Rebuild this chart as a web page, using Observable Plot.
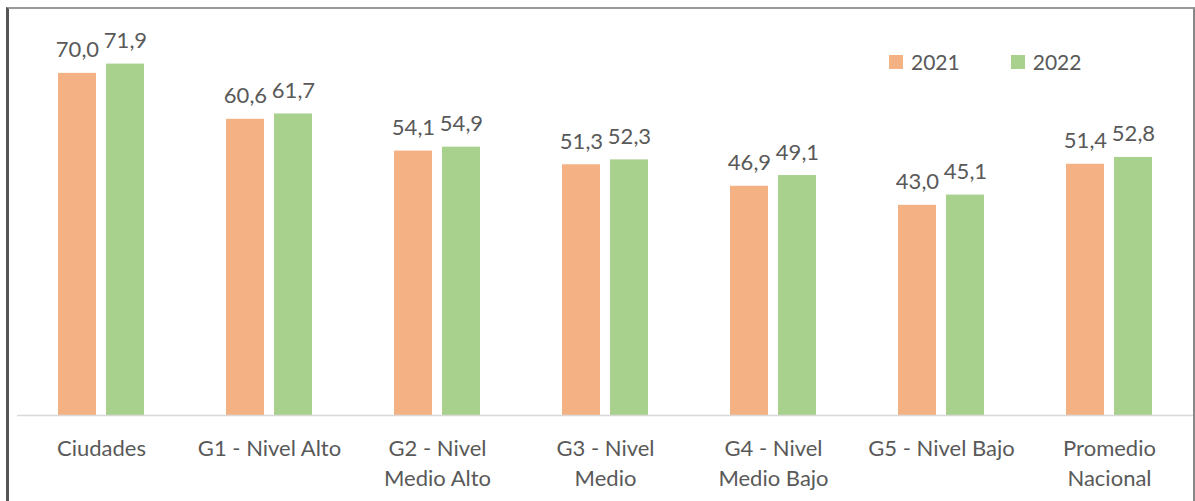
<!DOCTYPE html>
<html>
<head>
<meta charset="utf-8">
<script src="https://cdn.jsdelivr.net/npm/d3@7"></script>
<script src="https://cdn.jsdelivr.net/npm/@observablehq/plot@0.6"></script>
<style>
  html, body { margin: 0; padding: 0; background: #fff; }
  #wrap { position: relative; width: 1195px; height: 501px; overflow: hidden; font-family: Lato, "Open Sans", sans-serif; }
  #frame { position: absolute; left: 6px; top: 7px; width: 1184px; height: 520px;
           border-left: 3px solid #555; border-top: 2px solid #999; border-right: 2px solid #888; }
  #chart { position: absolute; left: 0; top: 0; }
  #legend { position: absolute; top: 49px; left: 889px; display: flex; gap: 51px; font-size: 21px; color: #595959; }
  #legend .item { display: flex; align-items: center; gap: 8px; }
  #legend .sw { width: 14px; height: 14px; display: inline-block; }
</style>
</head>
<body>
<div id="wrap">
  <div id="frame"></div>
  <div id="chart"></div>
  <div id="legend"></div>
</div>
<script>
const categories = ["Ciudades", "G1 - Nivel Alto", "G2 - Nivel Medio Alto", "G3 - Nivel Medio", "G4 - Nivel Medio Bajo", "G5 - Nivel Bajo", "Promedio Nacional"];
const tickLabels = ["Ciudades", "G1 - Nivel Alto", "G2 - Nivel\nMedio Alto", "G3 - Nivel\nMedio", "G4 - Nivel\nMedio Bajo", "G5 - Nivel Bajo", "Promedio\nNacional"];
const years = ["2021", "2022"];
const values2021 = [70.0, 60.6, 54.1, 51.3, 46.9, 43.0, 51.4];
const values2022 = [71.9, 61.7, 54.9, 52.3, 49.1, 45.1, 52.8];
const colors = ["#F4B183", "#A9D18E"];

const data = [];
categories.forEach((c, i) => {
  data.push({cat: c, year: years[0], value: values2021[i]});
  data.push({cat: c, year: years[1], value: values2022[i]});
});
const labelOf = new Map(categories.map((c, i) => [c, tickLabels[i]]));
const fmt = v => d3.format(".1f")(v).replace(".", ",");

const plot = Plot.plot({
  width: 1195,
  height: 501,
  marginTop: 24,
  marginBottom: 86,
  marginLeft: 17,
  marginRight: 2,
  style: {fontFamily: "Lato, 'Open Sans', sans-serif", fontSize: "22px", color: "#595959", background: "transparent"},
  fx: {domain: categories, padding: 0, label: null},
  x: {domain: years, paddingInner: 0.2083, paddingOuter: 0.854, axis: null},
  y: {domain: [0, 80], axis: null},
  color: {domain: years, range: colors},
  marks: [
    Plot.barY(data, {fx: "cat", x: "year", y: "value", fill: "year"}),
    Plot.ruleY([0], {stroke: "#d9d9d9", strokeWidth: 1.5}),
    Plot.text(data, {fx: "cat", x: "year", y: "value", text: d => fmt(d.value), lineAnchor: "bottom", dy: -16, fill: "#595959", fontSize: 22}),
    Plot.axisFx({anchor: "bottom", tickSize: 0, tickPadding: 19, lineHeight: 1.38, tickFormat: d => labelOf.get(d), fontSize: 22, fill: "#595959"})
  ]
});
document.getElementById("chart").appendChild(plot);

const legend = document.getElementById("legend");
years.forEach((y, i) => {
  const item = document.createElement("div");
  item.className = "item";
  const sw = document.createElement("span");
  sw.className = "sw";
  sw.style.background = colors[i];
  const t = document.createElement("span");
  t.textContent = y;
  item.appendChild(sw);
  item.appendChild(t);
  legend.appendChild(item);
});
</script>
</body>
</html>
